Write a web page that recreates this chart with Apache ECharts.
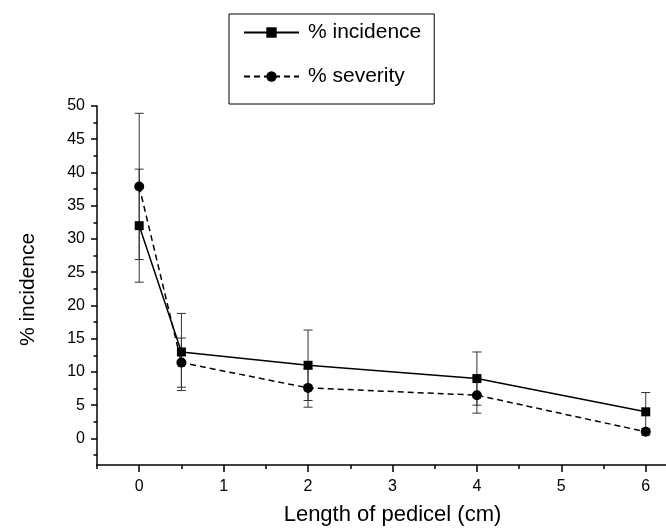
<!DOCTYPE html>
<html>
<head>
<meta charset="utf-8">
<script src="https://cdn.jsdelivr.net/npm/echarts@6/dist/echarts.min.js"></script>
<style>
html,body{margin:0;padding:0;background:#fff;}
#c{width:666px;height:531px;}
</style>
</head>
<body>
<div id="c"></div>
<script>
// ---- data ----
var lengths = [0, 0.5, 2, 4, 6];
var incidence = [32, 13, 11, 9, 4];
var incidenceErr = [8.5, 5.8, 5.3, 4.0, 2.9];
var severity = [37.9, 11.4, 7.6, 6.5, 1.0];
var severityErr = [11.0, 3.7, 2.9, 2.7, 0.5];
var xTicks = [0, 1, 2, 3, 4, 5, 6];
var xMinorTicks = [-0.5, 0.5, 1.5, 2.5, 3.5, 4.5, 5.5];
var yTicks = [0, 5, 10, 15, 20, 25, 30, 35, 40, 45, 50];
var yMinorTicks = [-2.5, 2.5, 7.5, 12.5, 17.5, 22.5, 27.5, 32.5, 37.5, 42.5, 47.5];
var seriesNames = ['% incidence', '% severity'];

var FONT = '"Liberation Sans", Arial, sans-serif';
// visible x range (the original plot is cropped at the right edge)
var X_MIN = -0.5, X_MAX = 6.24;

function pairs(vals) { return lengths.map(function (x, i) { return [x, vals[i]]; }); }
function errData(vals, errs) {
  return lengths.map(function (x, i) { return [x, vals[i] - errs[i], vals[i] + errs[i]]; });
}
function renderErr(params, api) {
  var x = api.value(0), lo = api.value(1), hi = api.value(2);
  var a = api.coord([x, lo]), b = api.coord([x, hi]);
  var w = 4.5;
  var st = { stroke: '#333', lineWidth: 1 };
  return {
    type: 'group',
    children: [
      { type: 'line', shape: { x1: a[0], y1: a[1], x2: b[0], y2: b[1] }, style: st },
      { type: 'line', shape: { x1: a[0] - w, y1: a[1], x2: a[0] + w, y2: a[1] }, style: st },
      { type: 'line', shape: { x1: b[0] - w, y1: b[1], x2: b[0] + w, y2: b[1] }, style: st }
    ]
  };
}

var chart = echarts.init(document.getElementById('c'), null, { renderer: 'canvas' });
var axisLineStyle = { color: '#000', width: 1.5 };
chart.setOption({
  animation: false,
  backgroundColor: '#fff',
  textStyle: { fontFamily: FONT, color: '#000' },
  legend: {
    orient: 'vertical',
    left: 229,
    top: 14,
    padding: [8, 13, 17, 14],
    borderColor: '#000',
    borderWidth: 1,
    itemWidth: 55,
    itemHeight: 13,
    itemGap: 23,
    textStyle: { fontFamily: FONT, fontSize: 21, color: '#000', lineHeight: 21, padding: [0, 0, 0, 4] },
    data: seriesNames
  },
  grid: { left: 97, right: 0, top: 106, bottom: 62.5, containLabel: false },
  xAxis: [
    {
      type: 'value', min: X_MIN, max: X_MAX, position: 'bottom',
      name: 'Length of pedicel (cm)', nameLocation: 'middle', nameGap: 39,
      nameTextStyle: { fontFamily: FONT, fontSize: 22, color: '#000', padding: [0, 0, 0, 22] },
      axisLine: { show: true, onZero: false, lineStyle: axisLineStyle },
      axisTick: { show: true, inside: false, length: 7, customValues: xTicks, lineStyle: { color: '#000', width: 1.5 } },
      axisLabel: { show: true, customValues: xTicks, margin: 14, fontFamily: FONT, fontSize: 16, color: '#000' },
      splitLine: { show: false }
    },
    {
      type: 'value', min: X_MIN, max: X_MAX, position: 'bottom', offset: 0,
      axisLine: { show: false, onZero: false },
      axisTick: { show: true, inside: false, length: 4, customValues: xMinorTicks, lineStyle: { color: '#000', width: 1.5 } },
      axisLabel: { show: false },
      splitLine: { show: false }
    }
  ],
  yAxis: [
    {
      type: 'value', min: -4, max: 50, position: 'left',
      name: '% incidence', nameLocation: 'middle', nameGap: 58,
      nameTextStyle: { fontFamily: FONT, fontSize: 21, color: '#000', padding: [0, 8, 0, 0] },
      axisLine: { show: true, onZero: false, lineStyle: axisLineStyle },
      axisTick: { show: true, inside: false, length: 6, customValues: yTicks, lineStyle: { color: '#000', width: 1.5 } },
      axisLabel: { show: true, customValues: yTicks, margin: 12, fontFamily: FONT, fontSize: 16, color: '#000' },
      splitLine: { show: false }
    },
    {
      type: 'value', min: -4, max: 50, position: 'left', offset: 0,
      axisLine: { show: false, onZero: false },
      axisTick: { show: true, inside: false, length: 3.5, customValues: yMinorTicks, lineStyle: { color: '#000', width: 1.5 } },
      axisLabel: { show: false },
      splitLine: { show: false }
    }
  ],
  series: [
    {
      type: 'custom', name: 'incErr', xAxisIndex: 0, yAxisIndex: 0,
      renderItem: renderErr, data: errData(incidence, incidenceErr),
      encode: { x: 0, y: [1, 2] }, z: 1, silent: true
    },
    {
      type: 'custom', name: 'sevErr', xAxisIndex: 0, yAxisIndex: 0,
      renderItem: renderErr, data: errData(severity, severityErr),
      encode: { x: 0, y: [1, 2] }, z: 1, silent: true
    },
    {
      type: 'line', name: seriesNames[0], xAxisIndex: 0, yAxisIndex: 0,
      data: pairs(incidence),
      symbol: 'rect', symbolSize: 9,
      itemStyle: { color: '#000' },
      lineStyle: { color: '#000', width: 1.5, type: 'solid' },
      z: 3
    },
    {
      type: 'line', name: seriesNames[1], xAxisIndex: 0, yAxisIndex: 0,
      data: pairs(severity),
      symbol: 'circle', symbolSize: 10,
      itemStyle: { color: '#000' },
      lineStyle: { color: '#000', width: 1.5, type: [6, 4] },
      z: 3
    }
  ]
});
</script>
</body>
</html>
